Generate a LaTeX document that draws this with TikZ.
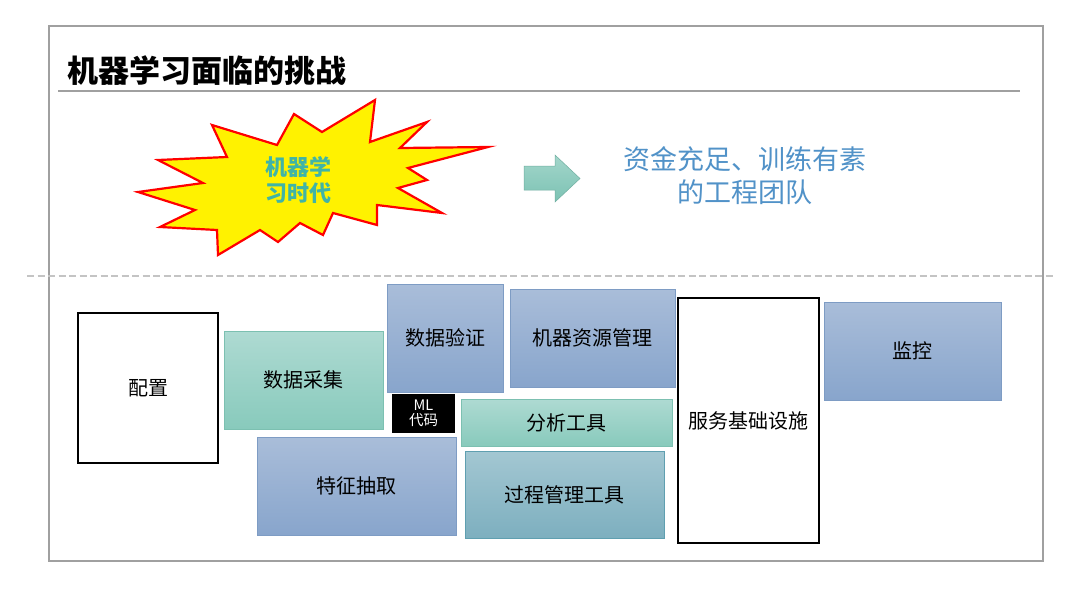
\documentclass[tikz,border=0pt]{standalone}
\usepackage{fontspec}
\newfontfamily\cjk{Noto Sans CJK SC}
\usetikzlibrary{positioning}
\definecolor{frameg}{HTML}{A0A0A0}
\definecolor{dashg}{HTML}{C4C4C4}
\definecolor{bluetop}{HTML}{A9BDD9}
\definecolor{bluebot}{HTML}{88A5CC}
\definecolor{blueline}{HTML}{7E9CC4}
\definecolor{tealtop}{HTML}{AEDAD2}
\definecolor{tealbot}{HTML}{88CABC}
\definecolor{tealline}{HTML}{7CC0B1}
\definecolor{proctop}{HTML}{A3C7D2}
\definecolor{procbot}{HTML}{7DAFBF}
\definecolor{procline}{HTML}{5F9FB0}
\definecolor{startext}{HTML}{40B4A6}
\definecolor{teamblue}{HTML}{5192C8}
\definecolor{arrtop}{HTML}{A3D6CB}
\definecolor{arrbot}{HTML}{7CC2B3}
\tikzset{
  base/.style={font=\cjk\fontsize{20}{23}\selectfont, text=black, inner sep=0pt, align=center},
  bluebox/.style={base, top color=bluetop, bottom color=bluebot, draw=blueline, line width=0.8pt},
  tealbox/.style={base, top color=tealtop, bottom color=tealbot, draw=tealline, line width=0.8pt},
  procbox/.style={base, top color=proctop, bottom color=procbot, draw=procline, line width=0.8pt},
  whitebox/.style={base, fill=white, draw=black, line width=2.5pt},
}
\begin{document}
\begin{tikzpicture}[x=1pt,y=-1pt]
\useasboundingbox (0,0) rectangle (1080,608);
\fill[white] (0,0) rectangle (1080,608);
% frame
\draw[frameg, line width=1.2pt] (49,26) rectangle (1043,561);
% title
\node[anchor=west, inner sep=0pt, font=\cjk\bfseries\fontsize{31}{35}\selectfont] (title) at (67,71) {机器学习面临的挑战};
\draw[frameg, line width=1.2pt] (58,91) -- (1020,91);
% dashed separator
\draw[dashg, line width=1.6pt, dash pattern=on 7pt off 3.5pt] (27,276) -- (1055,276);
% starburst
\draw[fill=yellow, draw=red, line width=2.2pt, line join=miter]
  (138,192) -- (203,183) -- (158,160) -- (227,157) -- (212,125) -- (277,145)
  -- (294,114) -- (322,132) -- (375,100) -- (370,142) -- (427,122) -- (400,148)
  -- (488,147) -- (408,168) -- (427,180) -- (398,188) -- (442,213) -- (377,205)
  -- (377,225) -- (333,213) -- (323,235) -- (300,223) -- (278,242) -- (260,230)
  -- (218,255) -- (217,230) -- (160,227) -- (195,210) -- cycle;
\node[inner sep=0pt, align=center, text=startext, font=\cjk\bfseries\fontsize{22}{26}\selectfont] (era) at (298,180) {机器学\\习时代};
% block arrow
\shade[top color=arrtop, bottom color=arrbot, draw=arrbot!90!black, line width=0.5pt]
  (524,166) -- (555,166) -- (555,155) -- (580,178.5) -- (555,202) -- (555,190) -- (524,190) -- cycle;
\coordinate (arrowtip) at (580,178.5);
\node[inner sep=0pt, align=center, text=teamblue, font=\cjk\fontsize{27}{33}\selectfont] (team) at (745,176) {资金充足、训练有素\\的工程团队};
% boxes
\node[whitebox, minimum width=140pt, minimum height=150pt] (peizhi) at (148,388) {配置};
\node[tealbox, minimum width=159pt, minimum height=98pt] (caiji) at (303.5,380) {数据采集};
\node[bluebox, minimum width=116pt, minimum height=108pt] (yanzheng) at (445,338) {数据验证};
\node[bluebox, minimum width=165pt, minimum height=98pt] (ziyuan) at (592.5,338) {机器资源管理};
\node[base, fill=black, text=white, minimum width=63pt, minimum height=39pt, font=\cjk\fontsize{14.5}{15}\selectfont] (mlcode) at (423.5,413.5) {ML\\代码};
\node[tealbox, minimum width=211pt, minimum height=47pt] (fenxi) at (566.5,422.5) {分析工具};
\node[bluebox, minimum width=199pt, minimum height=98pt] (tezheng) at (356.5,486) {特征抽取};
\node[procbox, minimum width=199pt, minimum height=87pt] (guocheng) at (564.5,494.5) {过程管理工具};
\node[whitebox, minimum width=141pt, minimum height=245pt] (fuwu) at (748.5,420.5) {服务基础设施};
\node[bluebox, minimum width=177pt, minimum height=98pt] (jiankong) at (912.5,351) {监控};
\end{tikzpicture}
\end{document}
